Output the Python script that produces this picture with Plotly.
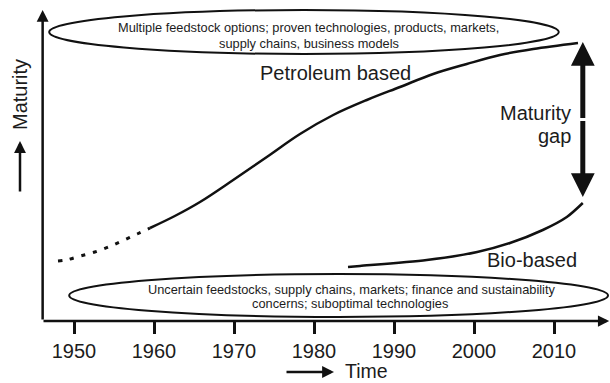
import plotly.graph_objects as go

# Petroleum-based maturity: early (uncertain) stretch drawn dotted, then solid
petro_early_years = [1948.0, 1949.0, 1950.8, 1952.6, 1954.3, 1956.0, 1957.9, 1959.5]
petro_early_vals = [60, 61, 65, 69, 74, 80, 87, 93]
petro_years = [1959.5, 1962.6, 1965.75, 1969.9, 1974.1, 1978.25, 1982.4, 1986.6,
               1990.75, 1994.9, 1999.1, 2003.25, 2007.4, 2013.0]
petro_vals = [93, 105, 119, 141, 164, 187, 206, 221, 234, 247, 257, 266, 272, 278]

# Bio-based maturity
bio_years = [1984.25, 1985.75, 1994.1, 2000.4, 2004.5, 2008.6, 2011.6, 2013.6]
bio_vals = [54, 55, 61, 69, 78, 91, 104, 118]

tick_years = [1950, 1960, 1970, 1980, 1990, 2000, 2010]

top_box_lines = ["Multiple feedstock options; proven technologies, products, markets,",
                 "supply chains, business models"]
bottom_box_lines = ["Uncertain feedstocks, supply chains, markets; finance and sustainability",
                    "concerns; suboptimal technologies"]

FONT = "Liberation Sans, Arial, sans-serif"
INK = "#111111"
TEXT = "#1c1c1c"

W, H = 610, 383
ML, MB = 42, 62
PLOT_W, PLOT_H = W - ML, H - MB
X0, X1 = 1946.0, 2017.0
Y0, Y1 = 0.0, float(PLOT_H)


def px_x(px):
    return (px - ML) / PLOT_W


def px_y(py):
    return (PLOT_H - py) / PLOT_H


fig = go.Figure()
fig.add_trace(go.Scatter(x=petro_early_years, y=petro_early_vals, mode="lines",
                         line=dict(color=INK, width=3, dash="4px,8px", shape="spline"),
                         hoverinfo="skip", showlegend=False))
fig.add_trace(go.Scatter(x=petro_years, y=petro_vals, mode="lines",
                         line=dict(color=INK, width=2.5, shape="spline", smoothing=1.0),
                         hoverinfo="skip", showlegend=False))
fig.add_trace(go.Scatter(x=bio_years, y=bio_vals, mode="lines",
                         line=dict(color=INK, width=2.5, shape="spline", smoothing=0.8),
                         hoverinfo="skip", showlegend=False))

# Ellipses framing the two descriptions
fig.add_shape(type="circle", xref="x", yref="y", x0=1946.9, x1=2010.6, y0=267, y1=311,
              line=dict(color=INK, width=2))
fig.add_shape(type="circle", xref="x", yref="y", x0=1949.4, x1=2016.75, y0=4, y1=47,
              line=dict(color=INK, width=2))

ann = []


def arrow(x, y, ax, ay, width, size, xref="x", yref="y", axref="x", ayref="y"):
    ann.append(dict(x=x, y=y, ax=ax, ay=ay, xref=xref, yref=yref, axref=axref,
                    ayref=ayref, text="", showarrow=True, arrowhead=2,
                    arrowsize=size, arrowwidth=width, arrowcolor=INK, standoff=0))


# Axes with arrowheads
arrow(2016.9, 0, X0, 0, 2.5, 0.9)
arrow(X0 + 0.08, 311, X0 + 0.08, 0, 2.5, 0.95)

# Maturity gap double arrow between the two curve ends
gap_x = bio_years[-1]
gap_top = petro_vals[-1] + 1
gap_bottom = bio_vals[-1] + 6
gap_mid = (gap_top + gap_bottom) / 2
arrow(gap_x, gap_top, gap_x, gap_mid, 5, 0.95)
arrow(gap_x, gap_bottom, gap_x, gap_mid, 5, 0.95)

# Small direction arrows next to the axis titles
arrow(px_x(20), px_y(141), 0, 52, 2.5, 0.95, xref="paper", yref="paper",
      axref="pixel", ayref="pixel")
arrow(px_x(334), px_y(372), -49, 0, 2.5, 0.95, xref="paper", yref="paper",
      axref="pixel", ayref="pixel")


def label(text, x, y, size, xanchor="center", yanchor="middle", xref="paper",
          yref="paper", angle=0):
    ann.append(dict(text=text, x=x, y=y, xref=xref, yref=yref, showarrow=False,
                    xanchor=xanchor, yanchor=yanchor, textangle=angle,
                    font=dict(family=FONT, size=size, color=TEXT)))


label(top_box_lines[0], px_x(308), px_y(27), 12.8)
label(top_box_lines[1], px_x(309), px_y(43), 12.8)
label(bottom_box_lines[0], px_x(351), px_y(289), 12.8)
label(bottom_box_lines[1], px_x(350), px_y(303), 12.8)
label("Petroleum based", px_x(335), px_y(73), 20)
label("Maturity", px_x(573), px_y(113), 20, xanchor="right")
label("gap", px_x(573), px_y(136), 20, xanchor="right")
label("Bio-based", px_x(579), px_y(260), 20, xanchor="right")
label("Maturity", px_x(20), px_y(95), 20, angle=-90)
label("Time", px_x(343), px_y(371), 19.5, xanchor="left")

fig.update_layout(
    width=W, height=H,
    margin=dict(l=ML, r=0, t=0, b=MB, pad=0),
    paper_bgcolor="white", plot_bgcolor="white",
    showlegend=False,
    annotations=ann,
    xaxis=dict(range=[X0, X1], tickvals=tick_years, ticktext=[str(t) for t in tick_years],
               ticks="outside", ticklen=12, tickwidth=2.5, tickcolor=INK,
               showline=False, showgrid=False, zeroline=False, fixedrange=True,
               tickfont=dict(family=FONT, size=20, color=TEXT)),
    yaxis=dict(range=[Y0, Y1], visible=False, fixedrange=True),
)

fig.write_html("out.html")
